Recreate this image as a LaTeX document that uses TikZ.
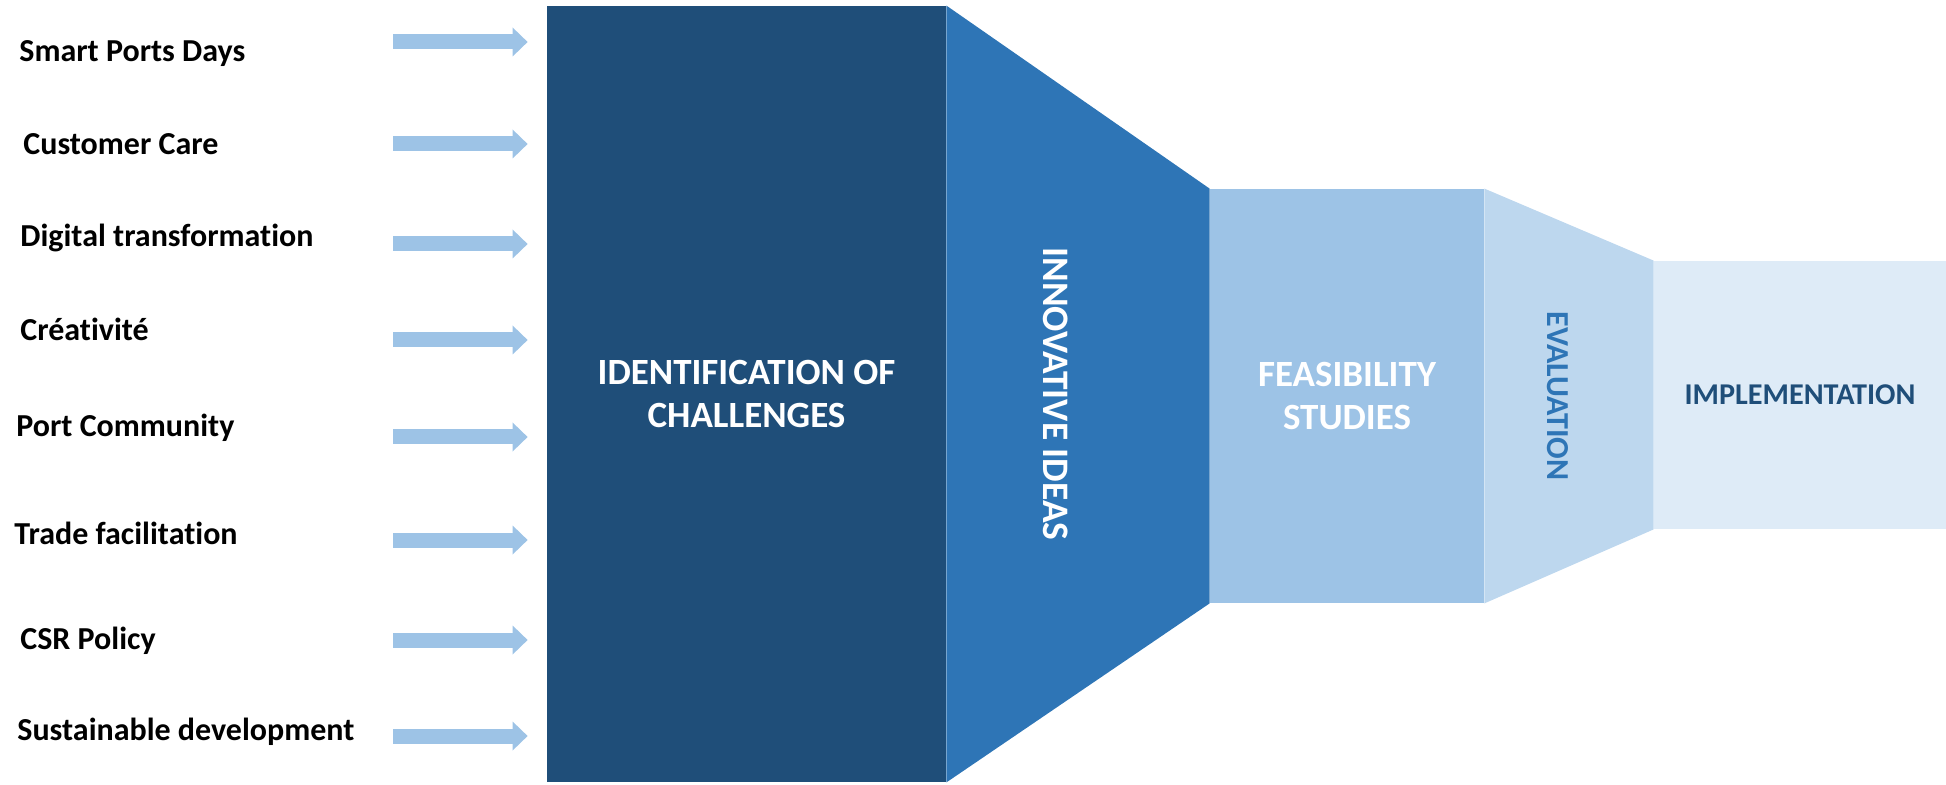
\documentclass[tikz,border=0pt]{standalone}
\usepackage{fontspec}
\setmainfont{Carlito}[Ligatures=NoCommon]
\usetikzlibrary{arrows.meta}
\definecolor{darkblue}{HTML}{1F4E79}
\definecolor{midblue}{HTML}{2E75B6}
\definecolor{lightblue}{HTML}{9DC3E6}
\definecolor{skyblue}{HTML}{BDD7EE}
\definecolor{paleblue}{HTML}{DEEBF7}

\begin{document}
\begin{tikzpicture}[x=0.5pt,y=-0.5pt]
    \tikzstyle{stage}=[rectangle,inner sep=0pt,text=white,align=center,font=\fontsize{18.5}{21.5}\selectfont\bfseries]
    \tikzstyle{input}=[inner sep=0pt,anchor=base west,font=\fontsize{16}{19}\selectfont\bfseries]
    \tikzstyle{feed}=[draw=lightblue,line width=7.5pt,-{Triangle[width=14.5pt,length=7.5pt,line width=0pt]},shorten >=9.5pt]

    \useasboundingbox (0,0) rectangle (1946,785);

    \node[stage,fill=darkblue,minimum width=199.5pt,minimum height=388pt] (chal) at (746.5,394) {IDENTIFICATION OF\\CHALLENGES};
    \node[stage,fill=lightblue,minimum width=137pt,minimum height=207pt] (feas) at (1347,396) {FEASIBILITY\\STUDIES};
    \node[stage,fill=paleblue,text=darkblue,minimum width=146pt,minimum height=134pt,font=\fontsize{15.1}{18}\selectfont\bfseries] (impl) at (1800,395) {IMPLEMENTATION};

    \fill[midblue] (chal.north east) -- (feas.north west) -- (feas.south west) -- (chal.south east) -- cycle;
    \fill[skyblue] (feas.north east) -- (impl.north west) -- (impl.south west) -- (feas.south east) -- cycle;
    \node[stage,rotate=-90,font=\fontsize{18.7}{22}\selectfont\bfseries] (ideas) at (1056,394) {INNOVATIVE IDEAS};
    \node[stage,rotate=-90,text=midblue,font=\fontsize{16}{19}\selectfont\bfseries] (eval) at (1558,396) {EVALUATION};

    \foreach \txt / \y / \x / \b [count=\i] in {Smart Ports Days/42/19/62, Customer Care/144/23/155,
            Digital transformation/244/20/247, Créativité/340/20/341, Port Community/437/16/437,
            Trade facilitation/540/14/544, CSR Policy/640/20/649, Sustainable development/736/17/740}
    {
        \node[input] (in-\i) at (\x,\b) {\txt};
        \coordinate (s-\i) at (393,\y);
        \draw[feed] (s-\i) -- (s-\i -| chal.west);
    }
\end{tikzpicture}
\end{document}
